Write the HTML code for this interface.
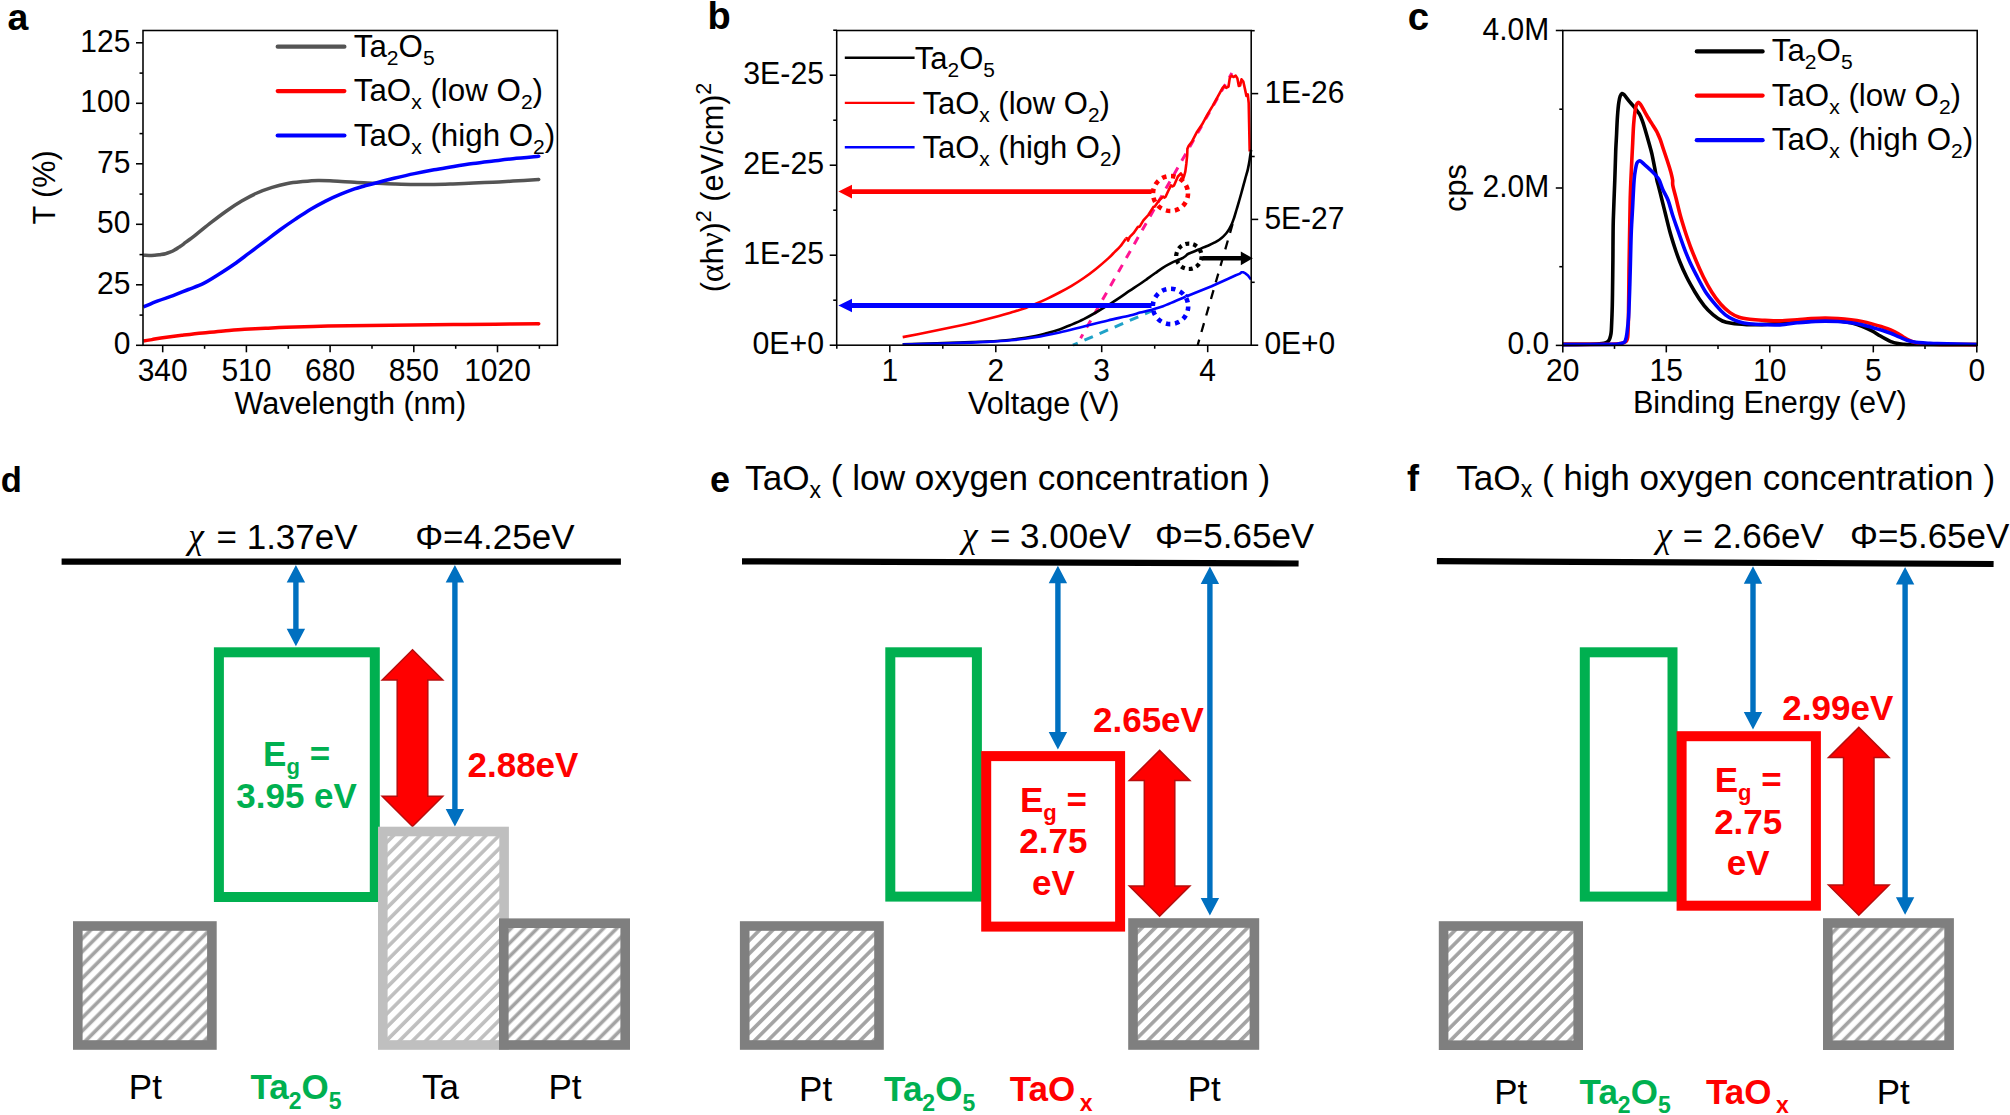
<!DOCTYPE html>
<html lang="en"><head><meta charset="utf-8"><title>Figure</title>
<style>html,body{margin:0;padding:0;background:#fff;}svg{display:block;}text{font-family:"Liberation Sans",Arial,Helvetica,sans-serif;}.ser{font-family:"Liberation Serif","DejaVu Serif",serif;}</style>
</head><body>
<svg width="2010" height="1115" viewBox="0 0 2010 1115">
<defs>
<pattern id="h1" width="9.334" height="9.334" patternUnits="userSpaceOnUse" patternTransform="rotate(-45)"><rect x="-0.1" y="-0.1" width="9.53" height="9.53" fill="#fff"/><rect x="-0.1" y="-8.02" width="9.53" height="3.60" fill="#a3a3a3"/><rect x="-0.1" y="1.31" width="9.53" height="3.60" fill="#a3a3a3"/><rect x="-0.1" y="10.65" width="9.53" height="3.60" fill="#a3a3a3"/></pattern>
<pattern id="h2" width="9.334" height="9.334" patternUnits="userSpaceOnUse" patternTransform="rotate(-45)"><rect x="-0.1" y="-0.1" width="9.53" height="9.53" fill="#fff"/><rect x="-0.1" y="-10.14" width="9.53" height="3.60" fill="#bfbfbf"/><rect x="-0.1" y="-0.81" width="9.53" height="3.60" fill="#bfbfbf"/><rect x="-0.1" y="8.52" width="9.53" height="3.60" fill="#bfbfbf"/></pattern>
<pattern id="h3" width="9.334" height="9.334" patternUnits="userSpaceOnUse" patternTransform="rotate(-45)"><rect x="-0.1" y="-0.1" width="9.53" height="9.53" fill="#fff"/><rect x="-0.1" y="-10.71" width="9.53" height="3.60" fill="#a3a3a3"/><rect x="-0.1" y="-1.38" width="9.53" height="3.60" fill="#a3a3a3"/><rect x="-0.1" y="7.96" width="9.53" height="3.60" fill="#a3a3a3"/></pattern>
<pattern id="h4" width="9.334" height="9.334" patternUnits="userSpaceOnUse" patternTransform="rotate(-45)"><rect x="-0.1" y="-0.1" width="9.53" height="9.53" fill="#fff"/><rect x="-0.1" y="-11.13" width="9.53" height="3.60" fill="#a3a3a3"/><rect x="-0.1" y="-1.80" width="9.53" height="3.60" fill="#a3a3a3"/><rect x="-0.1" y="7.53" width="9.53" height="3.60" fill="#a3a3a3"/></pattern>
<pattern id="h5" width="9.334" height="9.334" patternUnits="userSpaceOnUse" patternTransform="rotate(-45)"><rect x="-0.1" y="-0.1" width="9.53" height="9.53" fill="#fff"/><rect x="-0.1" y="-3.71" width="9.53" height="3.60" fill="#a3a3a3"/><rect x="-0.1" y="5.62" width="9.53" height="3.60" fill="#a3a3a3"/><rect x="-0.1" y="14.96" width="9.53" height="3.60" fill="#a3a3a3"/></pattern>
<pattern id="h6" width="9.334" height="9.334" patternUnits="userSpaceOnUse" patternTransform="rotate(-45)"><rect x="-0.1" y="-0.1" width="9.53" height="9.53" fill="#fff"/><rect x="-0.1" y="-4.56" width="9.53" height="3.60" fill="#a3a3a3"/><rect x="-0.1" y="4.78" width="9.53" height="3.60" fill="#a3a3a3"/><rect x="-0.1" y="14.11" width="9.53" height="3.60" fill="#a3a3a3"/></pattern>
<pattern id="h7" width="9.334" height="9.334" patternUnits="userSpaceOnUse" patternTransform="rotate(-45)"><rect x="-0.1" y="-0.1" width="9.53" height="9.53" fill="#fff"/><rect x="-0.1" y="-6.75" width="9.53" height="3.60" fill="#a3a3a3"/><rect x="-0.1" y="2.58" width="9.53" height="3.60" fill="#a3a3a3"/><rect x="-0.1" y="11.92" width="9.53" height="3.60" fill="#a3a3a3"/></pattern>
</defs>
<rect width="2010" height="1115" fill="#fff"/>
<g id="panelA">
<text x="7.4" y="29.9" font-size="37.4" text-anchor="start" font-weight="bold" fill="#000" >a</text>
<path d="M143.4 255.2C144.3 255.2 147.1 255.4 149 255.4C150.9 255.4 153 255.3 154.8 255.2C156.6 255.1 158.2 254.9 160 254.7C161.8 254.4 163.8 254.1 165.5 253.7C167.2 253.3 168.5 252.8 170 252.2C171.5 251.6 173.1 250.8 174.6 249.9C176.1 249.1 177.5 248.1 179 247.1C180.5 246.1 181 245.9 183.8 243.8C186.6 241.7 191.4 238.2 196 234.6C200.6 231 206.1 226.3 211.2 222.4C216.3 218.5 221.4 214.6 226.5 211C231.6 207.4 236.6 204.1 241.7 201.1C246.8 198.1 251.9 195.3 257 193C262.1 190.7 267.1 189 272.2 187.4C277.3 185.8 282.4 184.5 287.5 183.5C292.6 182.5 297.6 182.1 302.7 181.6C307.8 181.1 312.9 180.6 318 180.5C323.1 180.4 327.1 180.7 333.2 181C339.3 181.3 347.5 181.9 354.5 182.3C361.5 182.7 368.3 182.9 375 183.2C381.7 183.5 388.1 183.8 394.6 184C401.1 184.2 407.4 184.4 414 184.5C420.6 184.6 427.5 184.5 434 184.4C440.5 184.3 446.4 184.1 453 183.9C459.6 183.7 466.8 183.4 473.5 183.1C480.2 182.8 486.4 182.5 493 182.2C499.6 181.9 505.4 181.5 513 181.1C520.6 180.7 534.4 179.8 538.7 179.6" fill="none" stroke="#545454" stroke-width="3.5" stroke-linejoin="round"/>
<path d="M143.4 341C144.8 340.8 149.1 340.1 152 339.6C154.9 339.1 155.9 338.7 160.9 338C165.9 337.3 174.8 336.1 181.8 335.3C188.8 334.5 195.7 333.7 202.7 333C209.7 332.3 216.6 331.5 223.6 330.9C230.6 330.3 237.5 329.6 244.5 329.2C251.5 328.8 258.4 328.5 265.4 328.2C272.4 327.9 275.9 327.6 286.3 327.3C296.7 327 314.1 326.4 328 326.1C341.9 325.8 355.9 325.6 369.8 325.4C383.7 325.2 397.7 325.1 411.6 325C425.5 324.9 439.5 324.7 453.4 324.6C467.3 324.5 481 324.3 495.2 324.2C509.4 324.1 531.5 323.9 538.7 323.8" fill="none" stroke="#ff0000" stroke-width="3.5" stroke-linejoin="round"/>
<path d="M143.4 307C145.8 306 153 302.8 157.9 300.9C162.8 299 168 297.5 173.1 295.6C178.2 293.7 183.3 291.5 188.4 289.5C193.5 287.5 198.5 285.9 203.6 283.4C208.7 280.9 213.8 277.5 218.9 274.3C224 271.1 229 267.9 234.1 264.3C239.2 260.7 244.3 256.7 249.4 252.9C254.5 249.1 259.5 245.3 264.6 241.5C269.7 237.7 274.7 233.7 279.8 230C284.9 226.3 290 222.8 295.1 219.4C300.2 216 305.2 212.6 310.3 209.5C315.4 206.4 320.5 203.7 325.6 201.1C330.7 198.5 336 196.2 340.8 194.2C345.6 192.2 350.5 190.3 354.5 188.9C358.5 187.5 361.6 186.8 365 185.8C368.4 184.9 370.2 184.4 375 183.2C379.8 181.9 387.4 179.9 394 178.3C400.6 176.7 407.7 175 414.4 173.6C421.1 172.2 427.4 171 434 169.8C440.6 168.6 447.3 167.6 453.8 166.5C460.3 165.4 466.4 164.4 473 163.5C479.6 162.6 486.6 161.8 493.3 161C500 160.2 505.4 159.5 513 158.7C520.6 157.9 534.4 156.7 538.7 156.3" fill="none" stroke="#0000ff" stroke-width="3.5" stroke-linejoin="round"/>
<circle cx="538.7" cy="179.6" r="1.75" fill="#545454"/>
<circle cx="538.7" cy="323.8" r="1.75" fill="#ff0000"/>
<circle cx="538.7" cy="156.3" r="1.75" fill="#0000ff"/>
<rect x="143" y="30.5" width="414.4" height="314.8" fill="none" stroke="#000" stroke-width="1.55"/>
<line x1="136" y1="345.3" x2="143" y2="345.3" stroke="#000" stroke-width="1.55" />
<text transform="translate(130.4 354.2) scale(1 1.025)" font-size="30.0" text-anchor="end" font-weight="normal" fill="#000" >0</text>
<line x1="136" y1="284.8" x2="143" y2="284.8" stroke="#000" stroke-width="1.55" />
<text transform="translate(130.4 293.7) scale(1 1.025)" font-size="30.0" text-anchor="end" font-weight="normal" fill="#000" >25</text>
<line x1="136" y1="224.3" x2="143" y2="224.3" stroke="#000" stroke-width="1.55" />
<text transform="translate(130.4 233.2) scale(1 1.025)" font-size="30.0" text-anchor="end" font-weight="normal" fill="#000" >50</text>
<line x1="136" y1="163.8" x2="143" y2="163.8" stroke="#000" stroke-width="1.55" />
<text transform="translate(130.4 172.7) scale(1 1.025)" font-size="30.0" text-anchor="end" font-weight="normal" fill="#000" >75</text>
<line x1="136" y1="103.3" x2="143" y2="103.3" stroke="#000" stroke-width="1.55" />
<text transform="translate(130.4 112.2) scale(1 1.025)" font-size="30.0" text-anchor="end" font-weight="normal" fill="#000" >100</text>
<line x1="136" y1="42.8" x2="143" y2="42.8" stroke="#000" stroke-width="1.55" />
<text transform="translate(130.4 51.7) scale(1 1.025)" font-size="30.0" text-anchor="end" font-weight="normal" fill="#000" >125</text>
<line x1="139.5" y1="315.1" x2="143" y2="315.1" stroke="#000" stroke-width="1.55" />
<line x1="139.5" y1="254.6" x2="143" y2="254.6" stroke="#000" stroke-width="1.55" />
<line x1="139.5" y1="194.1" x2="143" y2="194.1" stroke="#000" stroke-width="1.55" />
<line x1="139.5" y1="133.6" x2="143" y2="133.6" stroke="#000" stroke-width="1.55" />
<line x1="139.5" y1="73.1" x2="143" y2="73.1" stroke="#000" stroke-width="1.55" />
<line x1="162.7" y1="345.3" x2="162.7" y2="352.3" stroke="#000" stroke-width="1.55" />
<text transform="translate(162.7 380.6) scale(1 1.025)" font-size="30.0" text-anchor="middle" font-weight="normal" fill="#000" >340</text>
<line x1="246.4" y1="345.3" x2="246.4" y2="352.3" stroke="#000" stroke-width="1.55" />
<text transform="translate(246.4 380.6) scale(1 1.025)" font-size="30.0" text-anchor="middle" font-weight="normal" fill="#000" >510</text>
<line x1="330.1" y1="345.3" x2="330.1" y2="352.3" stroke="#000" stroke-width="1.55" />
<text transform="translate(330.1 380.6) scale(1 1.025)" font-size="30.0" text-anchor="middle" font-weight="normal" fill="#000" >680</text>
<line x1="413.8" y1="345.3" x2="413.8" y2="352.3" stroke="#000" stroke-width="1.55" />
<text transform="translate(413.8 380.6) scale(1 1.025)" font-size="30.0" text-anchor="middle" font-weight="normal" fill="#000" >850</text>
<line x1="497.5" y1="345.3" x2="497.5" y2="352.3" stroke="#000" stroke-width="1.55" />
<text transform="translate(497.5 380.6) scale(1 1.025)" font-size="30.0" text-anchor="middle" font-weight="normal" fill="#000" >1020</text>
<line x1="204.6" y1="345.3" x2="204.6" y2="348.8" stroke="#000" stroke-width="1.55" />
<line x1="288.3" y1="345.3" x2="288.3" y2="348.8" stroke="#000" stroke-width="1.55" />
<line x1="372" y1="345.3" x2="372" y2="348.8" stroke="#000" stroke-width="1.55" />
<line x1="455.7" y1="345.3" x2="455.7" y2="348.8" stroke="#000" stroke-width="1.55" />
<line x1="539.4" y1="345.3" x2="539.4" y2="348.8" stroke="#000" stroke-width="1.55" />
<text x="350.4" y="413.5" font-size="30.6" text-anchor="middle" font-weight="normal" fill="#000" >Wavelength (nm)</text>
<text transform="translate(55.2 187.5) rotate(-90)" font-size="30.6" text-anchor="middle">T (%)</text>
<line x1="277.7" y1="46.7" x2="344.4" y2="46.7" stroke="#545454" stroke-width="4.2" stroke-linecap="round"/>
<text x="353.8" y="56.9" font-size="31.3" text-anchor="start" font-weight="normal" fill="#000" >Ta<tspan font-size="21.1" dy="8">2</tspan><tspan dy="-8">O</tspan><tspan font-size="21.1" dy="8">5</tspan></text>
<line x1="277.7" y1="91.1" x2="344.4" y2="91.1" stroke="#ff0000" stroke-width="4.2" stroke-linecap="round"/>
<text x="353.8" y="101.3" font-size="31.3" text-anchor="start" font-weight="normal" fill="#000" >TaO<tspan font-size="21.1" dy="8">x</tspan><tspan dy="-8"> (low O</tspan><tspan font-size="21.1" dy="8">2</tspan><tspan dy="-8">)</tspan></text>
<line x1="277.7" y1="135.5" x2="344.4" y2="135.5" stroke="#0000ff" stroke-width="4.2" stroke-linecap="round"/>
<text x="353.8" y="145.7" font-size="31.3" text-anchor="start" font-weight="normal" fill="#000" >TaO<tspan font-size="21.1" dy="8">x</tspan><tspan dy="-8"> (high O</tspan><tspan font-size="21.1" dy="8">2</tspan><tspan dy="-8">)</tspan></text>
</g>
<g id="panelB">
<text x="707.6" y="29.2" font-size="38" text-anchor="start" font-weight="bold" fill="#000" >b</text>
<path d="M1231.9 72.9L1080.6 338.2" fill="none" stroke="#ff1493" stroke-width="3" stroke-dasharray="8.2 7.8" stroke-dashoffset="3"/>
<path d="M1153.4 310.2L1072.9 345.2" fill="none" stroke="#1fa2c8" stroke-width="3" stroke-dasharray="9.2 7.3"/>
<path d="M1232.6 224L1197.7 345" fill="none" stroke="#000" stroke-width="2.3" stroke-dasharray="9.2 8"/>
<path d="M902.7 337.1C906.6 336.3 918.3 334.1 926.3 332.5C934.3 330.9 942.4 329.3 950.5 327.6C958.6 325.9 966.7 324.1 974.8 322.2C982.9 320.3 993 317.7 999 316.1C1005 314.5 1007.1 313.7 1011.1 312.5C1015.1 311.3 1019.2 310.2 1023.2 308.8C1027.2 307.4 1031.3 305.7 1035.3 304C1039.3 302.3 1043.4 300.5 1047.4 298.6C1051.4 296.7 1055.5 294.6 1059.5 292.5C1063.5 290.4 1067.5 288.2 1071.6 285.8C1075.6 283.4 1079.8 280.8 1083.8 278C1087.8 275.2 1091.9 272.1 1095.9 268.9C1099.9 265.7 1104.8 261.5 1108 258.6C1111.2 255.8 1112.8 253.8 1114.8 251.8C1116.8 249.8 1118.3 248.7 1120.1 246.5C1121.9 244.3 1124.8 240.1 1125.7 238.8" fill="none" stroke="#ff0000" stroke-width="2.6" />
<path d="M1125.7 238.8L1126.8 238L1128.1 240.6L1129.6 237.2L1133.5 233.2L1138 226.8L1139.4 226.8L1140.4 225.4L1143.4 220.4L1148.3 215L1153.3 207.1L1154.8 206.6L1156.2 204.6L1159.2 200.2L1163.1 196.7L1164.6 197.6L1165.6 196.8L1168.1 191.3L1171 185.4L1172.5 186.4L1174 185.6L1177.9 176.5L1180.9 173.5L1182.2 175.5L1183.4 178L1184.4 175L1185.3 171.6L1186.3 164L1187.2 154.8L1187.4 148.8L1188.6 146.1L1192.2 141.2L1196.6 132.6L1202 124.6L1207.4 114.7L1212.8 105.7L1218.2 95.9L1222.6 87.8L1224.4 86L1226.2 87.8L1228.5 86.5L1229.8 77.9L1231.6 75.7L1233.4 77L1235.7 75.7L1237.4 78.4L1238.8 86L1240.1 85.6L1241.5 79.3L1243.3 81.5L1245.1 89.6L1246.4 95.9L1247.8 94.5L1248.7 103L1249.1 122.8L1249.7 151.5" fill="none" stroke="#ff0000" stroke-width="2.6" stroke-linejoin="round"/>
<path d="M902.7 344.3C910.7 344.1 936.5 343.3 950.5 342.8C964.5 342.3 976.8 342 986.9 341.5C997 341 1003 340.6 1011.1 339.7C1019.2 338.8 1029.2 337.2 1035.3 336.1C1041.3 335 1043.4 334.2 1047.4 333.1C1051.4 332 1055.5 330.8 1059.5 329.4C1063.5 328 1067.5 326.3 1071.6 324.6C1075.6 322.9 1079.8 321.1 1083.8 319.1C1087.8 317.1 1091.9 314.8 1095.9 312.5C1099.9 310.2 1104 307.7 1108 305.2C1112 302.7 1116.5 299.7 1120.1 297.3C1123.7 294.9 1126.5 292.9 1129.8 290.7C1133.1 288.5 1137.1 285.9 1139.9 284C1142.8 282.1 1144.4 280.9 1146.9 279.1C1149.4 277.3 1152.3 275.2 1155 273.3C1157.7 271.4 1160.4 269.3 1163.1 267.6C1165.8 265.9 1168.3 264.6 1171 263.2C1173.7 261.8 1177.2 260.4 1179.2 259.5C1181.2 258.6 1181.9 258.4 1183 257.8C1184.1 257.2 1184.9 256.6 1185.7 256C1186.5 255.4 1186.9 254.6 1188 254C1189.1 253.4 1190.5 253 1192.2 252.3C1193.9 251.6 1196.1 250.6 1198 249.8C1199.9 249 1201.7 248.2 1203.5 247.4C1205.3 246.6 1207.1 246 1209 245.2C1210.9 244.4 1213.1 243.3 1214.8 242.4C1216.5 241.5 1217.7 240.9 1219 240C1220.3 239.1 1221.7 238.1 1222.9 236.9C1224.2 235.7 1225.4 234.3 1226.5 233C1227.6 231.7 1228.4 230.5 1229.3 228.9C1230.2 227.3 1231.2 225.4 1232 223.5C1232.8 221.6 1233.4 219.8 1234.2 217.5C1235 215.2 1235.8 212.2 1236.6 209.5C1237.4 206.8 1238.2 204.2 1239 201.4C1239.8 198.6 1240.7 195.5 1241.5 192.5C1242.3 189.5 1243.2 186.3 1243.9 183.6C1244.7 180.8 1245.3 178.4 1246 176C1246.7 173.6 1247.3 171.8 1247.9 169.1C1248.5 166.4 1249.1 163.2 1249.6 160C1250.1 156.8 1250.8 151.4 1251.1 149.7" fill="none" stroke="#000" stroke-width="2.6" />
<path d="M902.7 344.6C910.7 344.4 936.5 343.6 950.5 343.2C964.5 342.8 976.8 342.4 986.9 341.9C997 341.4 1003 341.1 1011.1 340.3C1019.2 339.5 1027.2 338.6 1035.3 337.3C1043.4 336 1051.4 334.3 1059.5 332.5C1067.6 330.7 1075.7 328.4 1083.8 326.4C1091.9 324.4 1100.3 322.2 1108 320.4C1115.7 318.6 1124.5 316.8 1129.8 315.5C1135.1 314.2 1136 313.7 1139.9 312.6C1143.8 311.6 1149.5 310.3 1153.4 309.2C1157.3 308.1 1159.5 307.5 1163.1 306.2C1166.7 304.9 1171.2 302.8 1175 301.2C1178.8 299.6 1183.9 297.4 1185.7 296.7" fill="none" stroke="#0000ff" stroke-width="2.6" />
<path d="M1185.7 296.7L1186.8 295.4L1188 295.8L1195.4 292.7L1211.6 286.2L1227.7 279L1235.8 275.2L1240 273.6L1241.5 272.3L1243 272.2L1245.5 273.4L1248 275.5L1251 279.5" fill="none" stroke="#0000ff" stroke-width="2.6" stroke-linejoin="round"/>
<circle cx="1170.5" cy="193.5" r="17.5" fill="none" stroke="#ff0000" stroke-width="4.6" stroke-dasharray="4.5 4.663"/>
<circle cx="1170.5" cy="306.4" r="17.7" fill="none" stroke="#0000ff" stroke-width="4.6" stroke-dasharray="4.5 4.768"/>
<circle cx="1188.9" cy="256.3" r="12.7" fill="none" stroke="#000" stroke-width="4.2" stroke-dasharray="4 3.98"/>
<line x1="850" y1="191.6" x2="1151.5" y2="191.6" stroke="#ff0000" stroke-width="4.9" />
<path d="M838.4 191.6L852 184.8L852 198.4Z" fill="#ff0000"/>
<line x1="850" y1="305.5" x2="1151.5" y2="305.5" stroke="#0000ff" stroke-width="5.1" />
<path d="M838.4 305.5L852 298.7L852 312.3Z" fill="#0000ff"/>
<line x1="1202.7" y1="258.3" x2="1242" y2="258.3" stroke="#000" stroke-width="4.6" />
<path d="M1252.8 258.3L1240.8 251.4L1240.8 265.2Z" fill="#000"/>
<rect x="836.7" y="30.5" width="414.5" height="314.7" fill="none" stroke="#000" stroke-width="1.55"/>
<line x1="829.7" y1="345.2" x2="836.7" y2="345.2" stroke="#000" stroke-width="1.55" />
<text transform="translate(824.1 354.4) scale(1 1.025)" font-size="30.3" text-anchor="end" font-weight="normal" fill="#000" >0E+0</text>
<line x1="829.7" y1="255.2" x2="836.7" y2="255.2" stroke="#000" stroke-width="1.55" />
<text transform="translate(824.1 264.4) scale(1 1.025)" font-size="30.3" text-anchor="end" font-weight="normal" fill="#000" >1E-25</text>
<line x1="829.7" y1="165.2" x2="836.7" y2="165.2" stroke="#000" stroke-width="1.55" />
<text transform="translate(824.1 174.4) scale(1 1.025)" font-size="30.3" text-anchor="end" font-weight="normal" fill="#000" >2E-25</text>
<line x1="829.7" y1="75.2" x2="836.7" y2="75.2" stroke="#000" stroke-width="1.55" />
<text transform="translate(824.1 84.4) scale(1 1.025)" font-size="30.3" text-anchor="end" font-weight="normal" fill="#000" >3E-25</text>
<line x1="833.2" y1="300.2" x2="836.7" y2="300.2" stroke="#000" stroke-width="1.55" />
<line x1="833.2" y1="210.2" x2="836.7" y2="210.2" stroke="#000" stroke-width="1.55" />
<line x1="833.2" y1="120.2" x2="836.7" y2="120.2" stroke="#000" stroke-width="1.55" />
<line x1="833.2" y1="30.2" x2="836.7" y2="30.2" stroke="#000" stroke-width="1.55" />
<line x1="1251.2" y1="345.2" x2="1258.2" y2="345.2" stroke="#000" stroke-width="1.55" />
<text transform="translate(1264.4 354.4) scale(1 1.025)" font-size="30.0" text-anchor="start" font-weight="normal" fill="#000" >0E+0</text>
<line x1="1251.2" y1="219.4" x2="1258.2" y2="219.4" stroke="#000" stroke-width="1.55" />
<text transform="translate(1264.4 228.6) scale(1 1.025)" font-size="30.0" text-anchor="start" font-weight="normal" fill="#000" >5E-27</text>
<line x1="1251.2" y1="93.6" x2="1258.2" y2="93.6" stroke="#000" stroke-width="1.55" />
<text transform="translate(1264.4 102.8) scale(1 1.025)" font-size="30.0" text-anchor="start" font-weight="normal" fill="#000" >1E-26</text>
<line x1="1251.2" y1="282.3" x2="1254.7" y2="282.3" stroke="#000" stroke-width="1.55" />
<line x1="1251.2" y1="156.5" x2="1254.7" y2="156.5" stroke="#000" stroke-width="1.55" />
<line x1="1251.2" y1="30.7" x2="1254.7" y2="30.7" stroke="#000" stroke-width="1.55" />
<line x1="889.8" y1="345.2" x2="889.8" y2="352.2" stroke="#000" stroke-width="1.55" />
<text transform="translate(889.8 380.6) scale(1 1.025)" font-size="30.0" text-anchor="middle" font-weight="normal" fill="#000" >1</text>
<line x1="995.8" y1="345.2" x2="995.8" y2="352.2" stroke="#000" stroke-width="1.55" />
<text transform="translate(995.8 380.6) scale(1 1.025)" font-size="30.0" text-anchor="middle" font-weight="normal" fill="#000" >2</text>
<line x1="1101.7" y1="345.2" x2="1101.7" y2="352.2" stroke="#000" stroke-width="1.55" />
<text transform="translate(1101.7 380.6) scale(1 1.025)" font-size="30.0" text-anchor="middle" font-weight="normal" fill="#000" >3</text>
<line x1="1207.7" y1="345.2" x2="1207.7" y2="352.2" stroke="#000" stroke-width="1.55" />
<text transform="translate(1207.7 380.6) scale(1 1.025)" font-size="30.0" text-anchor="middle" font-weight="normal" fill="#000" >4</text>
<line x1="836.8" y1="345.2" x2="836.8" y2="348.7" stroke="#000" stroke-width="1.55" />
<line x1="942.8" y1="345.2" x2="942.8" y2="348.7" stroke="#000" stroke-width="1.55" />
<line x1="1048.8" y1="345.2" x2="1048.8" y2="348.7" stroke="#000" stroke-width="1.55" />
<line x1="1154.7" y1="345.2" x2="1154.7" y2="348.7" stroke="#000" stroke-width="1.55" />
<text x="1043.8" y="413.5" font-size="30.6" text-anchor="middle" font-weight="normal" fill="#000" >Voltage (V)</text>
<text transform="translate(723.2 187.5) rotate(-90)" font-size="30.6" text-anchor="middle">(<tspan class="ser" font-size="34">&#945;</tspan>h<tspan class="ser" font-size="33">&#957;</tspan>)<tspan font-size="21.5" dy="-12.5">2</tspan><tspan dy="12.5"> (eV/cm)</tspan><tspan font-size="21.5" dy="-12.5">2</tspan></text>
<line x1="844.8" y1="57.7" x2="914.6" y2="57.7" stroke="#000" stroke-width="2.4" />
<text x="914.8" y="68.7" font-size="31.0" text-anchor="start" font-weight="normal" fill="#000" >Ta<tspan font-size="20.9" dy="8">2</tspan><tspan dy="-8">O</tspan><tspan font-size="20.9" dy="8">5</tspan></text>
<line x1="844.8" y1="102.9" x2="914.6" y2="102.9" stroke="#ff0000" stroke-width="2.4" />
<text x="922.4" y="113.9" font-size="31.0" text-anchor="start" font-weight="normal" fill="#000" >TaO<tspan font-size="20.9" dy="8">x</tspan><tspan dy="-8"> (low O</tspan><tspan font-size="20.9" dy="8">2</tspan><tspan dy="-8">)</tspan></text>
<line x1="844.8" y1="147.3" x2="914.6" y2="147.3" stroke="#0000ff" stroke-width="2.4" />
<text x="922.4" y="158.3" font-size="31.0" text-anchor="start" font-weight="normal" fill="#000" >TaO<tspan font-size="20.9" dy="8">x</tspan><tspan dy="-8"> (high O</tspan><tspan font-size="20.9" dy="8">2</tspan><tspan dy="-8">)</tspan></text>
</g>
<g id="panelC">
<text x="1407.7" y="30" font-size="38.4" text-anchor="start" font-weight="bold" fill="#000" >c</text>
<path d="M1562.8 344.4C1566.4 344.4 1584.8 344.3 1590 344.2C1595.2 344.1 1599.9 343.8 1602 343.6C1604.1 343.4 1605.1 343 1606 342.6C1606.9 342.2 1608.4 341.2 1609 340.3C1609.6 339.4 1610.2 337.3 1610.5 336C1610.8 334.7 1611.1 333.7 1611.3 330.9C1611.5 328.1 1611.8 320 1612 315C1612.2 310 1612.4 300.8 1612.5 293.5C1612.6 286.2 1612.8 269.8 1612.9 260C1613 250.2 1613 230.7 1613.3 220C1613.6 209.3 1614.5 189.1 1614.8 180C1615.1 170.9 1615.5 157.9 1615.7 151.7C1615.9 145.5 1616.4 138.6 1616.6 133.8C1616.8 129 1617.2 120.1 1617.5 115.9C1617.8 111.7 1618.4 105 1618.8 102.4C1619.2 99.8 1619.7 97.3 1620.2 96.1C1620.7 94.9 1621.7 93.7 1622.2 93.5C1622.7 93.3 1623.3 93.9 1624.2 94.8C1625.1 95.7 1627.4 99 1628.7 100.6C1630 102.2 1632.7 105.1 1634.1 106.9C1635.5 108.7 1638.4 112.3 1639.5 114.1C1640.6 115.9 1641.5 118.5 1642.2 120.4C1642.9 122.3 1644 125.7 1644.8 128.4C1645.6 131.1 1647.4 137.5 1648.4 141C1649.4 144.5 1651.2 150.8 1652 154.4C1652.8 158 1654 164.5 1654.7 167.9C1655.4 171.3 1656.4 177.7 1656.9 180C1657.4 182.3 1657.6 182.6 1658.3 185.3C1659 188 1661.1 196.4 1662.1 200.5C1663.1 204.6 1664.9 211.7 1665.9 215.8C1666.9 219.9 1668.6 226.9 1669.7 231C1670.8 235.1 1673 242.2 1674.3 246.3C1675.6 250.4 1678.1 257.4 1679.7 261.5C1681.3 265.6 1684.5 272.7 1686.5 276.8C1688.5 280.9 1692.6 288.1 1694.9 292C1697.2 295.9 1701.7 302.6 1704.1 305.7C1706.5 308.8 1710.8 312.9 1713.2 314.9C1715.6 316.9 1720 319.9 1722.4 321C1724.8 322.1 1728.2 322.8 1731.5 323.3C1734.8 323.8 1742.7 324.4 1746.8 324.6C1750.9 324.8 1757.6 324.8 1762 324.6C1766.4 324.4 1775.3 323.7 1780 323.2C1784.7 322.7 1792.9 321.2 1797.2 320.8C1801.5 320.4 1808.3 320 1812 319.9C1815.7 319.8 1821.7 319.6 1825.2 319.7C1828.7 319.8 1834.6 320.2 1838 320.6C1841.4 321 1847.8 322.1 1851 322.8C1854.2 323.5 1859.2 325.1 1862 326.2C1864.8 327.3 1869.6 329.6 1872 330.9C1874.4 332.2 1878.1 334.7 1880 335.8C1881.9 336.9 1884.5 338.3 1886 339.1C1887.5 339.9 1889.7 341.1 1891 341.6C1892.3 342.1 1893.8 342.8 1895.4 343.1C1897 343.4 1900.5 344 1903 344.2C1905.5 344.4 1904.3 344.4 1914.1 344.5C1923.9 344.6 1968.4 344.6 1976.8 344.6" fill="none" stroke="#000" stroke-width="3.6" stroke-linejoin="round"/>
<path d="M1562.8 344.4C1569.1 344.4 1602.4 344.3 1610 344.2C1617.6 344.1 1618.1 343.8 1620 343.6C1621.9 343.4 1623.2 342.9 1624 342.6C1624.8 342.3 1625.8 341.9 1626.3 341.2C1626.8 340.5 1627.4 339.8 1627.7 337C1628 334.2 1628.2 328.9 1628.4 320C1628.6 311.1 1628.9 280.8 1629 270.1C1629.1 259.4 1629.3 249.4 1629.5 240.1C1629.7 230.8 1630 208 1630.2 200C1630.4 192 1630.7 185.2 1630.9 180C1631.1 174.8 1631.6 165.7 1631.8 160.7C1632 155.7 1632.5 147.6 1632.7 142.8C1632.9 138 1633.3 129 1633.6 124.8C1633.9 120.6 1634.6 114 1635 111.4C1635.4 108.8 1635.9 106.3 1636.3 105.1C1636.7 103.9 1637.6 102.5 1638.1 102.4C1638.6 102.3 1639.7 103.4 1640.4 104.2C1641.1 105 1642.1 107 1643 108.7C1643.9 110.4 1646.3 114.8 1647.5 116.8C1648.7 118.8 1650.8 122 1652 123.9C1653.2 125.8 1655.4 129.1 1656.5 131.1C1657.6 133.1 1659.1 136.7 1660.1 139.2C1661.1 141.7 1662.7 147.1 1663.7 150C1664.7 152.9 1666.3 157.7 1667.3 160.7C1668.3 163.7 1670.2 169.8 1670.9 172.4C1671.6 175 1672.3 178.3 1672.6 180C1672.9 181.7 1672.3 182.6 1672.8 185.3C1673.3 188 1675.6 196.4 1676.6 200.5C1677.6 204.6 1679.3 211.7 1680.4 215.8C1681.5 219.9 1683.7 226.9 1685 231C1686.3 235.1 1688.8 242.2 1690.3 246.3C1691.8 250.4 1694.7 257.4 1696.4 261.5C1698.1 265.6 1701.3 272.7 1703.3 276.8C1705.3 280.9 1709.4 288.3 1711.7 292C1714 295.7 1718.4 301.5 1720.8 304.2C1723.2 306.9 1727.6 310.9 1730 312.6C1732.4 314.3 1736.5 316.3 1739.1 317.2C1741.7 318.1 1746.7 318.8 1749.8 319.2C1752.9 319.6 1758 320 1762 320.2C1766 320.4 1775.3 321 1780 320.9C1784.7 320.8 1793.1 320 1797.2 319.7C1801.3 319.4 1807.3 318.8 1811 318.6C1814.7 318.4 1821.6 318.1 1825.2 318.1C1828.8 318.1 1834.6 318.3 1838 318.5C1841.4 318.7 1847.8 319.3 1851 319.7C1854.2 320.1 1859.2 320.9 1862 321.5C1864.8 322.1 1869.3 323.2 1872 323.9C1874.7 324.6 1879.5 326 1882 326.8C1884.5 327.6 1888.6 328.9 1890.7 329.8C1892.8 330.7 1896.1 332.4 1898 333.5C1899.9 334.6 1903.2 337 1904.7 337.9C1906.2 338.8 1908.2 339.9 1909.5 340.5C1910.8 341.1 1912.7 341.8 1914.1 342.2C1915.5 342.6 1918.4 343.2 1920 343.4C1921.6 343.6 1923.1 343.9 1925.8 344C1928.5 344.1 1933.2 344.3 1940 344.4C1946.8 344.5 1971.9 344.6 1976.8 344.6" fill="none" stroke="#ff0000" stroke-width="3.6" stroke-linejoin="round"/>
<path d="M1562.8 344.6C1569.1 344.6 1602.5 344.5 1610 344.4C1617.5 344.3 1617.3 344 1619 343.8C1620.7 343.6 1622.2 343.2 1623 342.8C1623.8 342.4 1624.8 342.3 1625.3 341C1625.8 339.7 1626.6 336.2 1627 333C1627.4 329.8 1628.2 323.3 1628.6 316.9C1629 310.5 1629.5 294.3 1629.8 285C1630.1 275.7 1630.6 254.8 1630.8 246.8C1631 238.8 1631.3 230.5 1631.6 225C1631.9 219.5 1632.4 211.4 1632.7 205.4C1633 199.4 1633.7 184.8 1634.1 180C1634.5 175.2 1635 171.9 1635.4 169.7C1635.8 167.5 1636.4 164.5 1636.8 163.4C1637.2 162.3 1638.1 161.5 1638.6 161.2C1639.1 160.9 1640 160.7 1640.8 161.2C1641.6 161.7 1643.5 163.7 1644.8 164.8C1646.1 165.9 1648.8 168.3 1650.2 169.7C1651.6 171.1 1654.4 173.7 1655.6 175.1C1656.8 176.5 1658.2 178 1659.2 180C1660.2 182 1661.7 187.1 1662.9 189.8C1664.1 192.5 1666.9 197 1668.2 200.5C1669.5 204 1671.5 211.7 1672.8 215.8C1674.1 219.9 1676.7 226.9 1678.1 231C1679.5 235.1 1682 242.2 1683.5 246.3C1685 250.4 1687.8 257.4 1689.6 261.5C1691.4 265.6 1695.1 272.7 1697.2 276.8C1699.3 280.9 1703.1 288.1 1705.6 292C1708.1 295.9 1713.7 302.6 1716.3 305.7C1718.9 308.8 1723 313 1725.4 314.9C1727.8 316.8 1732.2 319.1 1734.6 320.2C1737 321.3 1740.9 322.5 1743.7 323C1746.5 323.5 1751.1 324 1755.9 324.3C1760.7 324.6 1774.5 325.1 1780 324.9C1785.5 324.7 1793.1 323.2 1797.2 322.8C1801.3 322.4 1807.3 321.8 1811 321.6C1814.7 321.4 1821.6 321.1 1825.2 321.1C1828.8 321.1 1834.6 321.3 1838 321.5C1841.4 321.7 1847.8 322.4 1851 322.8C1854.2 323.2 1859.2 324.2 1862 324.8C1864.8 325.4 1869.3 326.7 1872 327.4C1874.7 328.1 1879.5 329.5 1882 330.3C1884.5 331.1 1888.4 332.4 1890.7 333.3C1893 334.2 1896.8 335.9 1899 336.8C1901.2 337.7 1905.2 339.6 1907.1 340.3C1909 341 1911.4 341.5 1913 341.8C1914.6 342.1 1916.8 342.4 1918.8 342.6C1920.8 342.8 1925.5 343.1 1928 343.2C1930.5 343.3 1931 343.4 1937.5 343.6C1944 343.8 1971.6 344.4 1976.8 344.5" fill="none" stroke="#0000ff" stroke-width="3.6" stroke-linejoin="round"/>
<rect x="1562.8" y="30.5" width="414.4" height="314.9" fill="none" stroke="#000" stroke-width="1.55"/>
<line x1="1555.8" y1="345.4" x2="1562.8" y2="345.4" stroke="#000" stroke-width="1.55" />
<text transform="translate(1549.2 354.4) scale(1 1.025)" font-size="30.0" text-anchor="end" font-weight="normal" fill="#000" >0.0</text>
<line x1="1555.8" y1="188" x2="1562.8" y2="188" stroke="#000" stroke-width="1.55" />
<text transform="translate(1549.2 197) scale(1 1.025)" font-size="30.0" text-anchor="end" font-weight="normal" fill="#000" >2.0M</text>
<line x1="1555.8" y1="30.5" x2="1562.8" y2="30.5" stroke="#000" stroke-width="1.55" />
<text transform="translate(1549.2 39.5) scale(1 1.025)" font-size="30.0" text-anchor="end" font-weight="normal" fill="#000" >4.0M</text>
<line x1="1559.3" y1="266.7" x2="1562.8" y2="266.7" stroke="#000" stroke-width="1.55" />
<line x1="1559.3" y1="109.2" x2="1562.8" y2="109.2" stroke="#000" stroke-width="1.55" />
<line x1="1562.8" y1="345.4" x2="1562.8" y2="352.4" stroke="#000" stroke-width="1.55" />
<text transform="translate(1562.8 380.6) scale(1 1.025)" font-size="30.0" text-anchor="middle" font-weight="normal" fill="#000" >20</text>
<line x1="1666.3" y1="345.4" x2="1666.3" y2="352.4" stroke="#000" stroke-width="1.55" />
<text transform="translate(1666.3 380.6) scale(1 1.025)" font-size="30.0" text-anchor="middle" font-weight="normal" fill="#000" >15</text>
<line x1="1769.8" y1="345.4" x2="1769.8" y2="352.4" stroke="#000" stroke-width="1.55" />
<text transform="translate(1769.8 380.6) scale(1 1.025)" font-size="30.0" text-anchor="middle" font-weight="normal" fill="#000" >10</text>
<line x1="1873.3" y1="345.4" x2="1873.3" y2="352.4" stroke="#000" stroke-width="1.55" />
<text transform="translate(1873.3 380.6) scale(1 1.025)" font-size="30.0" text-anchor="middle" font-weight="normal" fill="#000" >5</text>
<line x1="1976.8" y1="345.4" x2="1976.8" y2="352.4" stroke="#000" stroke-width="1.55" />
<text transform="translate(1976.8 380.6) scale(1 1.025)" font-size="30.0" text-anchor="middle" font-weight="normal" fill="#000" >0</text>
<line x1="1614.5" y1="345.4" x2="1614.5" y2="348.9" stroke="#000" stroke-width="1.55" />
<line x1="1718" y1="345.4" x2="1718" y2="348.9" stroke="#000" stroke-width="1.55" />
<line x1="1821.5" y1="345.4" x2="1821.5" y2="348.9" stroke="#000" stroke-width="1.55" />
<line x1="1925" y1="345.4" x2="1925" y2="348.9" stroke="#000" stroke-width="1.55" />
<text x="1769.8" y="413.4" font-size="30.6" text-anchor="middle" font-weight="normal" fill="#000" >Binding Energy (eV)</text>
<text transform="translate(1465.7 188) rotate(-90)" font-size="30.6" text-anchor="middle">cps</text>
<line x1="1696.8" y1="51.4" x2="1762.6" y2="51.4" stroke="#000" stroke-width="4.2" stroke-linecap="round"/>
<text x="1771.8" y="61.3" font-size="31.3" text-anchor="start" font-weight="normal" fill="#000" >Ta<tspan font-size="21.1" dy="8">2</tspan><tspan dy="-8">O</tspan><tspan font-size="21.1" dy="8">5</tspan></text>
<line x1="1696.8" y1="95.6" x2="1762.6" y2="95.6" stroke="#ff0000" stroke-width="4.2" stroke-linecap="round"/>
<text x="1771.8" y="105.5" font-size="31.3" text-anchor="start" font-weight="normal" fill="#000" >TaO<tspan font-size="21.1" dy="8">x</tspan><tspan dy="-8"> (low O</tspan><tspan font-size="21.1" dy="8">2</tspan><tspan dy="-8">)</tspan></text>
<line x1="1696.8" y1="140.2" x2="1762.6" y2="140.2" stroke="#0000ff" stroke-width="4.2" stroke-linecap="round"/>
<text x="1771.8" y="150.1" font-size="31.3" text-anchor="start" font-weight="normal" fill="#000" >TaO<tspan font-size="21.1" dy="8">x</tspan><tspan dy="-8"> (high O</tspan><tspan font-size="21.1" dy="8">2</tspan><tspan dy="-8">)</tspan></text>
</g>
<g id="panelD">
<text x="0.8" y="491.7" font-size="34.6" text-anchor="start" font-weight="bold" fill="#000" >d</text>
<line x1="61.6" y1="561.6" x2="620.9" y2="561.6" stroke="#000" stroke-width="6.2" />
<text x="188.3" y="547.7" class="ser" font-style="italic" font-size="35.5">&#967;</text>
<text transform="translate(357.6 549) scale(1 1.025)" font-size="35" text-anchor="end" font-weight="normal" fill="#000" >= 1.37eV</text>
<text transform="translate(415.2 549) scale(1 1.025)" font-size="35" text-anchor="start" font-weight="normal" fill="#000" >&#934;=4.25eV</text>
<path d="M295.9 565.1L305.1 582.6L298.6 582.6L298.6 628.7L305.1 628.7L295.9 646.2L286.7 628.7L293.2 628.7L293.2 582.6L286.7 582.6Z" fill="#0070c0"/>
<path d="M454.9 565.1L464.1 582.6L457.6 582.6L457.6 809L464.1 809L454.9 826.5L445.7 809L452.2 809L452.2 582.6L445.7 582.6Z" fill="#0070c0"/>
<rect x="218.9" y="652.3" width="155.9" height="244.7" fill="none" stroke="#00b050" stroke-width="10"/>
<path d="M412.5 649.7L442.8 679.9L427.8 679.9L427.8 796.3L442.8 796.3L412.5 826.5L382.2 796.3L397.2 796.3L397.2 679.9L382.2 679.9Z" fill="#ff0000" stroke="#b80c0c" stroke-width="1.5" stroke-linejoin="miter"/>
<text x="296.6" y="766.4" font-size="35" font-weight="bold" fill="#00b050" text-anchor="middle">E<tspan font-size="22" dy="8">g</tspan><tspan dy="-8"> =</tspan></text>
<text transform="translate(296.6 807.6) scale(1 1.025)" font-size="35" text-anchor="middle" font-weight="bold" fill="#00b050" >3.95 eV</text>
<text transform="translate(467.5 776.8) scale(1 1.025)" font-size="35" text-anchor="start" font-weight="bold" fill="#ff0000" >2.88eV</text>
<rect x="382.8" y="831.5" width="121.3" height="213.5" fill="url(#h2)" stroke="#bfbfbf" stroke-width="9.6"/>
<rect x="77.8" y="926" width="134.1" height="119" fill="url(#h1)" stroke="#7f7f7f" stroke-width="9.6"/>
<rect x="503.8" y="923.2" width="121.4" height="121.8" fill="url(#h3)" stroke="#7f7f7f" stroke-width="9.6"/>
<text transform="translate(145.4 1099.3) scale(1 1.025)" font-size="35" text-anchor="middle" font-weight="normal" fill="#000" >Pt</text>
<text x="250.5" y="1099.3" font-size="35" font-weight="bold" fill="#00b050">Ta<tspan font-size="23" dy="9.6">2</tspan><tspan dy="-9.6">O</tspan><tspan font-size="23" dy="9.6">5</tspan></text>
<text transform="translate(440.5 1099.3) scale(1 1.025)" font-size="35" text-anchor="middle" font-weight="normal" fill="#000" >Ta</text>
<text transform="translate(565 1099.3) scale(1 1.025)" font-size="35" text-anchor="middle" font-weight="normal" fill="#000" >Pt</text>
</g>
<g id="panelE">
<text x="710" y="492.3" font-size="36" text-anchor="start" font-weight="bold" fill="#000" >e</text>
<text x="745.1" y="490.4" font-size="35.15">TaO<tspan font-size="23" dy="7.5">x</tspan><tspan dy="-7.5"> ( low oxygen concentration )</tspan></text>
<line x1="742" y1="561.3" x2="1298.6" y2="563.5" stroke="#000" stroke-width="6.2" />
<text x="962.1" y="547" class="ser" font-style="italic" font-size="35.5">&#967;</text>
<text transform="translate(1131 548.3) scale(1 1.025)" font-size="35" text-anchor="end" font-weight="normal" fill="#000" >= 3.00eV</text>
<text transform="translate(1154.9 548.3) scale(1 1.025)" font-size="35" text-anchor="start" font-weight="normal" fill="#000" >&#934;=5.65eV</text>
<path d="M1057.9 565.8L1067.1 583.3L1060.6 583.3L1060.6 731.9L1067.1 731.9L1057.9 749.4L1048.7 731.9L1055.2 731.9L1055.2 583.3L1048.7 583.3Z" fill="#0070c0"/>
<path d="M1209.9 566.4L1219.1 583.9L1212.6 583.9L1212.6 898L1219.1 898L1209.9 915.5L1200.7 898L1207.2 898L1207.2 583.9L1200.7 583.9Z" fill="#0070c0"/>
<rect x="890.3" y="652.3" width="86.6" height="244.3" fill="none" stroke="#00b050" stroke-width="10"/>
<rect x="986.2" y="756.1" width="133.9" height="170.5" fill="none" stroke="#ff0000" stroke-width="10"/>
<path d="M1159.6 750.4L1189.9 780.6L1174.8 780.6L1174.8 885.9L1189.9 885.9L1159.6 916.1L1129.3 885.9L1144.3 885.9L1144.3 780.6L1129.3 780.6Z" fill="#ff0000" stroke="#b80c0c" stroke-width="1.5" stroke-linejoin="miter"/>
<text transform="translate(1093 732.2) scale(1 1.025)" font-size="35" text-anchor="start" font-weight="bold" fill="#ff0000" >2.65eV</text>
<text x="1053.4" y="811.6" font-size="35" font-weight="bold" fill="#ff0000" text-anchor="middle">E<tspan font-size="22" dy="8">g</tspan><tspan dy="-8"> =</tspan></text>
<text transform="translate(1053.4 853.4) scale(1 1.025)" font-size="35" text-anchor="middle" font-weight="bold" fill="#ff0000" >2.75</text>
<text transform="translate(1053.4 895.2) scale(1 1.025)" font-size="35" text-anchor="middle" font-weight="bold" fill="#ff0000" >eV</text>
<rect x="744.7" y="926" width="134.3" height="119" fill="url(#h4)" stroke="#7f7f7f" stroke-width="9.6"/>
<rect x="1133" y="923" width="121.4" height="122" fill="url(#h5)" stroke="#7f7f7f" stroke-width="9.6"/>
<text transform="translate(815.6 1101.3) scale(1 1.025)" font-size="35" text-anchor="middle" font-weight="normal" fill="#000" >Pt</text>
<text x="884.1" y="1101.3" font-size="35" font-weight="bold" fill="#00b050">Ta<tspan font-size="23" dy="9.6">2</tspan><tspan dy="-9.6">O</tspan><tspan font-size="23" dy="9.6">5</tspan></text>
<text x="1009.8" y="1101.3" font-size="35" font-weight="bold" fill="#ff0000">TaO<tspan font-size="23" dx="4.5" dy="9.6">x</tspan></text>
<text transform="translate(1204.3 1101.3) scale(1 1.025)" font-size="35" text-anchor="middle" font-weight="normal" fill="#000" >Pt</text>
</g>
<g id="panelF">
<text x="1407.1" y="491.4" font-size="36" text-anchor="start" font-weight="bold" fill="#000" >f</text>
<text x="1456.2" y="489.7" font-size="35.15">TaO<tspan font-size="23" dy="7.5">x</tspan><tspan dy="-7.5"> ( high oxygen concentration )</tspan></text>
<line x1="1436.9" y1="561.2" x2="1993.6" y2="564" stroke="#000" stroke-width="6.2" />
<text x="1656.3" y="546.7" class="ser" font-style="italic" font-size="35.5">&#967;</text>
<text transform="translate(1823.9 548) scale(1 1.025)" font-size="35" text-anchor="end" font-weight="normal" fill="#000" >= 2.66eV</text>
<text transform="translate(1850.1 548) scale(1 1.025)" font-size="35" text-anchor="start" font-weight="normal" fill="#000" >&#934;=5.65eV</text>
<path d="M1753 566.2L1762.2 583.7L1755.7 583.7L1755.7 712L1762.2 712L1753 729.5L1743.8 712L1750.3 712L1750.3 583.7L1743.8 583.7Z" fill="#0070c0"/>
<path d="M1905.1 567L1914.3 584.5L1907.8 584.5L1907.8 897.3L1914.3 897.3L1905.1 914.8L1895.9 897.3L1902.4 897.3L1902.4 584.5L1895.9 584.5Z" fill="#0070c0"/>
<rect x="1584.8" y="652.3" width="87.7" height="244.3" fill="none" stroke="#00b050" stroke-width="10"/>
<rect x="1681.6" y="736.2" width="134.3" height="169.5" fill="none" stroke="#ff0000" stroke-width="10"/>
<path d="M1858.8 727.4L1889.1 757.6L1874 757.6L1874 885L1889.1 885L1858.8 915.2L1828.5 885L1843.5 885L1843.5 757.6L1828.5 757.6Z" fill="#ff0000" stroke="#b80c0c" stroke-width="1.5" stroke-linejoin="miter"/>
<text transform="translate(1782.3 720.1) scale(1 1.025)" font-size="35" text-anchor="start" font-weight="bold" fill="#ff0000" >2.99eV</text>
<text x="1748.2" y="791.8" font-size="35" font-weight="bold" fill="#ff0000" text-anchor="middle">E<tspan font-size="22" dy="8">g</tspan><tspan dy="-8"> =</tspan></text>
<text transform="translate(1748.2 833.5) scale(1 1.025)" font-size="35" text-anchor="middle" font-weight="bold" fill="#ff0000" >2.75</text>
<text transform="translate(1748.2 875.2) scale(1 1.025)" font-size="35" text-anchor="middle" font-weight="bold" fill="#ff0000" >eV</text>
<rect x="1443.6" y="926" width="134.6" height="119.2" fill="url(#h6)" stroke="#7f7f7f" stroke-width="9.6"/>
<rect x="1827.8" y="923" width="121.3" height="122.2" fill="url(#h7)" stroke="#7f7f7f" stroke-width="9.6"/>
<text transform="translate(1510.8 1103.7) scale(1 1.025)" font-size="35" text-anchor="middle" font-weight="normal" fill="#000" >Pt</text>
<text x="1579.6" y="1103.7" font-size="35" font-weight="bold" fill="#00b050">Ta<tspan font-size="23" dy="9.6">2</tspan><tspan dy="-9.6">O</tspan><tspan font-size="23" dy="9.6">5</tspan></text>
<text x="1706" y="1103.7" font-size="35" font-weight="bold" fill="#ff0000">TaO<tspan font-size="23" dx="4.5" dy="9.6">x</tspan></text>
<text transform="translate(1893.2 1103.7) scale(1 1.025)" font-size="35" text-anchor="middle" font-weight="normal" fill="#000" >Pt</text>
</g>
</svg>
</body></html>
